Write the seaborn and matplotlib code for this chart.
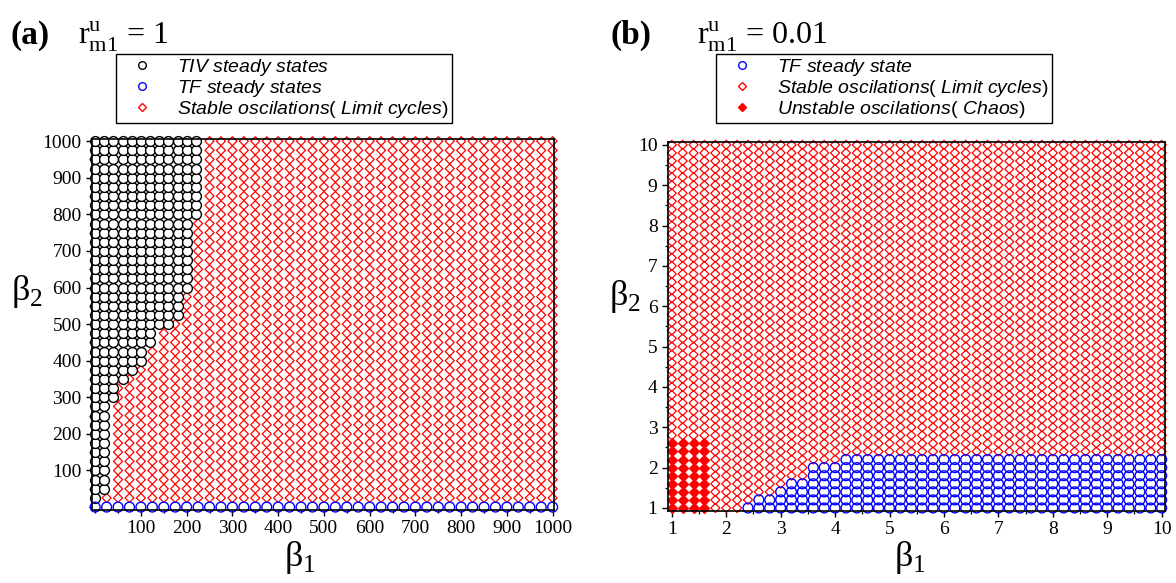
import numpy as np
import pandas as pd
import matplotlib
matplotlib.use("Agg")
import matplotlib.pyplot as plt
from matplotlib.ticker import MultipleLocator, FixedLocator
from matplotlib.lines import Line2D
import seaborn as sns

# ---------------- data ----------------
# Panel (a): r_m1^u = 1, beta1 / beta2 in [0, 1000]
a_grid_step = 25          # sampling step of the red / blue grid
a_tiv_step = 20           # sampling step (beta1) of TIV points
# row bands (beta2 low, beta2 high), largest beta1 with TIV state, first beta1 with limit cycles
a_band_lo = [25, 50, 300, 350, 375, 400, 450, 500, 525, 600, 800]
a_band_hi = [25, 275, 325, 350, 375, 425, 475, 500, 575, 775, 1000]
a_tiv_max = [0, 20, 40, 60, 80, 100, 120, 160, 180, 200, 220]
a_red_min = [25, 50, 50, 75, 100, 125, 150, 175, 200, 225, 250]
a_tf_row = 0              # beta2 row with TF steady states (all beta1)

# Panel (b): r_m1^u = 0.01, beta1 / beta2 in [1, 10]
b_step = 0.2
# TF steady state: rows of beta2 and first beta1 of the blue region
b_tf_rows = [1.0, 1.2, 1.4, 1.6, 1.8, 2.0, 2.2]
b_tf_min = [2.4, 2.6, 3.0, 3.2, 3.6, 3.6, 4.2]
# chaos block
b_chaos_b1 = [1.0, 1.2, 1.4, 1.6]
b_chaos_b2_max = 2.6

a_xticks = [100, 200, 300, 400, 500, 600, 700, 800, 900, 1000]
a_yticks = [100, 200, 300, 400, 500, 600, 700, 800, 900, 1000]
b_ticks = [1, 2, 3, 4, 5, 6, 7, 8, 9, 10]

# ---------------- build point tables ----------------
a_grid = np.arange(0, 1001, a_grid_step)
a_tiv_grid = np.arange(0, 221, a_tiv_step)
tiv_pts, red_a, tf_a = [], [], []
for y in a_grid:
    if y == a_tf_row:
        tf_a += [(x, y) for x in a_grid]
        continue
    for lo, hi, tmax, rmin in zip(a_band_lo, a_band_hi, a_tiv_max, a_red_min):
        if lo <= y <= hi:
            tiv_pts += [(x, y) for x in a_tiv_grid if x <= tmax]
            red_a += [(x, y) for x in a_grid if x >= rmin]
df_tiv = pd.DataFrame(tiv_pts, columns=["b1", "b2"])
df_red_a = pd.DataFrame(red_a, columns=["b1", "b2"])
df_tf_a = pd.DataFrame(tf_a, columns=["b1", "b2"])

b_grid = np.round(np.arange(1, 10.0001, b_step), 2)
tf_b, red_b, chaos_b = [], [], []
for y in b_grid:
    for x in b_grid:
        if x in b_chaos_b1 and y <= b_chaos_b2_max + 1e-9:
            chaos_b.append((x, y))
            continue
        done = False
        for r, m in zip(b_tf_rows, b_tf_min):
            if abs(y - r) < 1e-9 and x >= m - 1e-9:
                tf_b.append((x, y))
                done = True
        if not done:
            red_b.append((x, y))
df_tf_b = pd.DataFrame(tf_b, columns=["b1", "b2"])
df_red_b = pd.DataFrame(red_b, columns=["b1", "b2"])
df_chaos_b = pd.DataFrame(chaos_b, columns=["b1", "b2"])

# ---------------- style ----------------
sns.set_style("ticks")
plt.rcParams["font.family"] = ["Liberation Serif", "DejaVu Serif"]
plt.rcParams["text.color"] = "black"
plt.rcParams["axes.labelcolor"] = "black"
plt.rcParams["xtick.color"] = "black"
plt.rcParams["ytick.color"] = "black"
plt.rcParams["mathtext.fontset"] = "custom"
plt.rcParams["mathtext.rm"] = "Liberation Serif"
plt.rcParams["mathtext.it"] = "Liberation Sans:italic"
plt.rcParams["mathtext.bf"] = "Liberation Serif:bold"
plt.rcParams["mathtext.sf"] = "Liberation Sans"

fig = plt.figure(figsize=(11.76, 5.83), dpi=100)
axa = fig.add_axes([0.0782, 0.1252, 0.3929, 0.6364])
axb = fig.add_axes([0.5680, 0.1235, 0.4226, 0.6329])

circ_s, circ_lw = 50, 1.0
dia_s, dia_lw = 21, 0.9

def hollow(df, ax, marker, color, s, lw, z, fill="none"):
    sns.scatterplot(data=df, x="b1", y="b2", ax=ax, marker=marker, s=s,
                    facecolor=fill, edgecolor=color, linewidth=lw,
                    clip_on=False, legend=False, zorder=z)

hollow(df_red_a, axa, "D", "red", dia_s, dia_lw, 3)
hollow(df_tiv, axa, "o", "black", circ_s, circ_lw, 4, fill="white")
hollow(df_tf_a, axa, "o", "blue", circ_s, circ_lw, 4)

hollow(df_red_b, axb, "D", "red", dia_s, dia_lw, 3)
hollow(df_tf_b, axb, "o", "blue", circ_s, circ_lw, 4)
sns.scatterplot(data=df_chaos_b, x="b1", y="b2", ax=axb, marker="D", s=26,
                color="red", edgecolor="red", linewidth=0.9,
                clip_on=False, legend=False, zorder=4)

# axes setup
axa.set_xlim(-7, 1003)
axa.set_ylim(-8, 1006)
axa.xaxis.set_major_locator(FixedLocator(a_xticks))
axa.yaxis.set_major_locator(FixedLocator(a_yticks))
axa.xaxis.set_minor_locator(MultipleLocator(50))
axa.yaxis.set_minor_locator(MultipleLocator(50))

axb.set_xlim(0.93, 10.06)
axb.set_ylim(0.925, 10.07)
axb.xaxis.set_major_locator(FixedLocator(b_ticks))
axb.yaxis.set_major_locator(FixedLocator(b_ticks))
axb.xaxis.set_minor_locator(MultipleLocator(0.5))
axb.yaxis.set_minor_locator(MultipleLocator(0.5))

for ax in (axa, axb):
    ax.set_xlabel("")
    ax.set_ylabel("")
    for sp in ax.spines.values():
        sp.set_visible(True)
        sp.set_linewidth(1.2)
        sp.set_color("black")
        sp.set_zorder(5)
    ax.tick_params(which="major", direction="out", length=4.5, width=1.0,
                   labelsize=14, colors="black", pad=3)
    ax.tick_params(which="minor", direction="out", length=2.5, width=0.9, colors="black")
    for lab in ax.get_xticklabels() + ax.get_yticklabels():
        lab.set_fontfamily("Liberation Serif")

# axis labels (β with subscript)
fig.text(300 / 1176, 1 - 566 / 583, "β$_{\\mathrm{1}}$", fontsize=26, ha="center", va="baseline")
fig.text(910 / 1176, 1 - 566 / 583, "β$_{\\mathrm{1}}$", fontsize=26, ha="center", va="baseline")
fig.text(11 / 1176, 1 - 300 / 583, "β$_{\\mathrm{2}}$", fontsize=26, ha="left", va="baseline")
fig.text(609 / 1176, 1 - 305 / 583, "β$_{\\mathrm{2}}$", fontsize=26, ha="left", va="baseline")

# panel titles
ty = 1 - 44 / 583
fig.text(11 / 1176, ty, "(a)", fontsize=24, fontweight="bold", va="baseline")
fig.text(78 / 1176, ty, r"$\mathrm{r}_{\mathrm{m1}}^{\mathrm{u}}$ = 1", fontsize=23, va="baseline")
fig.text(611 / 1176, ty, "(b)", fontsize=24, fontweight="bold", va="baseline")
fig.text(697 / 1176, ty, r"$\mathrm{r}_{\mathrm{m1}}^{\mathrm{u}}$ = 0.01", fontsize=23, va="baseline")

# legends
def mk(marker, color, filled=False):
    return Line2D([], [], linestyle="none", marker=marker, markersize=5.5 if marker == "o" else 4.2,
                  markerfacecolor=color if filled else "none", markeredgecolor=color,
                  markeredgewidth=1.0)

leg_kw = dict(loc="upper left", bbox_transform=fig.transFigure, frameon=True,
              fancybox=False, edgecolor="black", framealpha=1,
              prop={"family": "Liberation Sans", "size": 14},
              handlelength=2.4, handletextpad=0.6, labelspacing=0.0,
              borderpad=0.15, borderaxespad=0)

la = axa.legend([mk("o", "black"), mk("o", "blue"), mk("D", "red")],
                [r"$\mathit{TIV\ steady\ states}$",
                 r"$\mathit{TF\ steady\ states}$",
                 r"$\mathit{Stable\ oscilations}$( $\mathit{Limit\ cycles}$)"],
                bbox_to_anchor=(116 / 1176, 1 - 54 / 583), **leg_kw)
la.get_frame().set_linewidth(1.0)

lb = axb.legend([mk("o", "blue"), mk("D", "red"), mk("D", "red", True)],
                [r"$\mathit{TF\ steady\ state}$",
                 r"$\mathit{Stable\ oscilations}$( $\mathit{Limit\ cycles}$)",
                 r"$\mathit{Unstable\ oscilations}$( $\mathit{Chaos}$)"],
                bbox_to_anchor=(716 / 1176, 1 - 54 / 583), **leg_kw)
lb.get_frame().set_linewidth(1.0)

fig.savefig("out.png", dpi=100)
